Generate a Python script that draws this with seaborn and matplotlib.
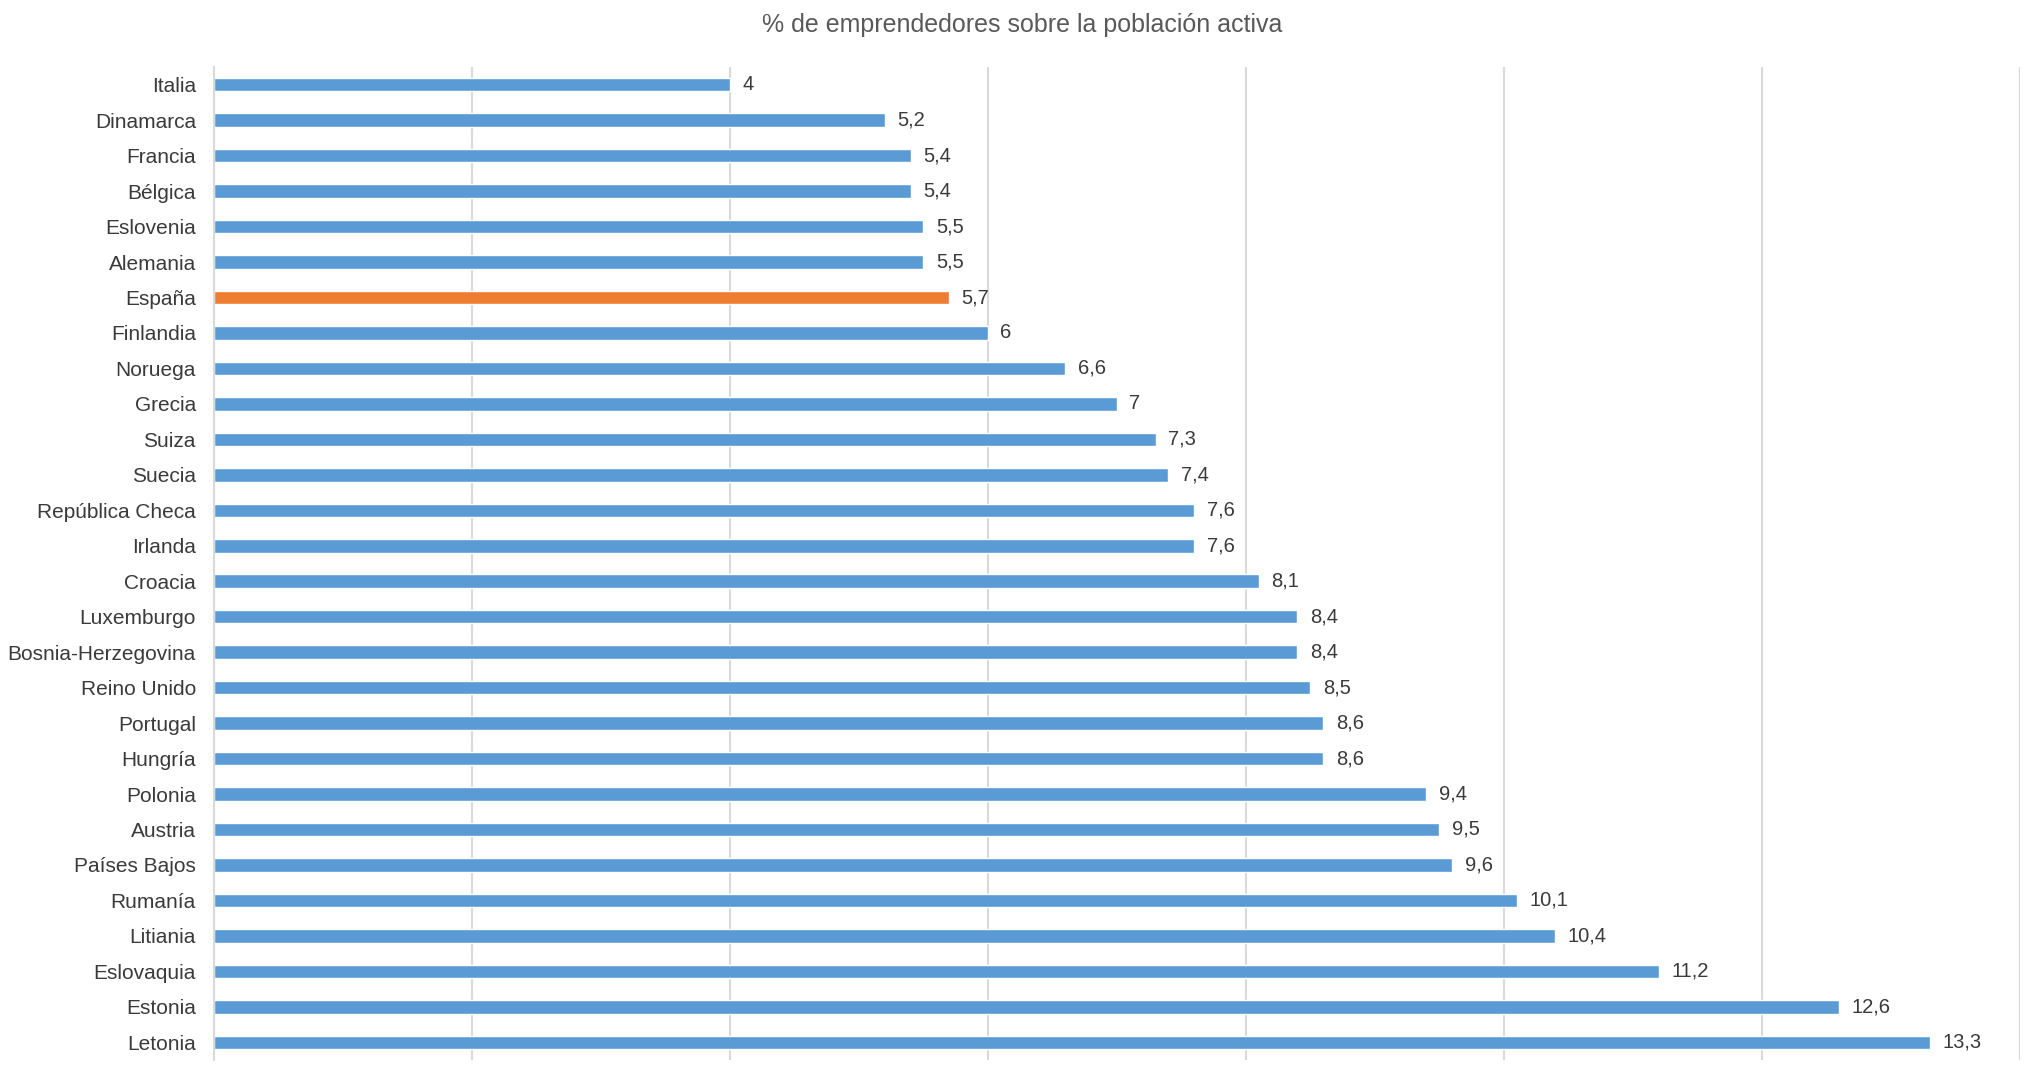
import matplotlib
matplotlib.use("Agg")
import matplotlib.pyplot as plt
import seaborn as sns
import pandas as pd

# Datos: % de emprendedores sobre la población activa
paises = ["Italia", "Dinamarca", "Francia", "Bélgica", "Eslovenia", "Alemania",
          "España", "Finlandia", "Noruega", "Grecia", "Suiza", "Suecia",
          "República Checa", "Irlanda", "Croacia", "Luxemburgo",
          "Bosnia-Herzegovina", "Reino Unido", "Portugal", "Hungría", "Polonia",
          "Austria", "Países Bajos", "Rumanía", "Litiania", "Eslovaquia",
          "Estonia", "Letonia"]
valores = [4, 5.2, 5.4, 5.4, 5.5, 5.5, 5.7, 6, 6.6, 7, 7.3, 7.4, 7.6, 7.6, 8.1,
           8.4, 8.4, 8.5, 8.6, 8.6, 9.4, 9.5, 9.6, 10.1, 10.4, 11.2, 12.6, 13.3]
destacado = "España"

azul = "#5B9BD5"
naranja = "#ED7D31"
texto = "#3A3A3A"

df = pd.DataFrame({"pais": paises, "valor": valores})
colores = {p: (naranja if p == destacado else azul) for p in paises}

sns.set_style("white")
plt.rcParams["font.family"] = ["Liberation Sans", "DejaVu Sans"]

fig = plt.figure(figsize=(20.32, 10.72), dpi=100)
ax = fig.add_axes([0.1053, 0.0112, 0.8887, 0.9263])

sns.barplot(data=df, x="valor", y="pais", hue="pais", palette=colores,
            orient="h", width=0.38, legend=False, ax=ax, saturation=1)

# Etiquetas de valor con coma decimal
etiquetas = [f"{v:g}".replace(".", ",") for v in valores]
for cont, lab in zip(ax.containers, etiquetas):
    ax.bar_label(cont, labels=[lab], padding=9, fontsize=14.5, color=texto)

ax.set_xlim(0, 14)
ax.set_ylim(len(paises) - 0.5, -0.5)
ax.set_xticks(range(0, 15, 2))
ax.set_xticklabels([])
ax.xaxis.grid(True, color="#D9D9D9", linewidth=1.5)
ax.set_axisbelow(True)
ax.tick_params(axis="y", length=0, pad=13, labelsize=15, labelcolor=texto)
ax.tick_params(axis="x", length=0)
ax.set_xlabel("")
ax.set_ylabel("")
for lado in ["top", "right", "bottom"]:
    ax.spines[lado].set_visible(False)
ax.spines["left"].set_color("#D9D9D9")
ax.spines["left"].set_linewidth(1.5)

fig.suptitle("% de emprendedores sobre la población activa", x=0.503, y=0.977,
             va="center", fontsize=18, color="#595959")

fig.savefig("out.png", dpi=100, facecolor="white")
